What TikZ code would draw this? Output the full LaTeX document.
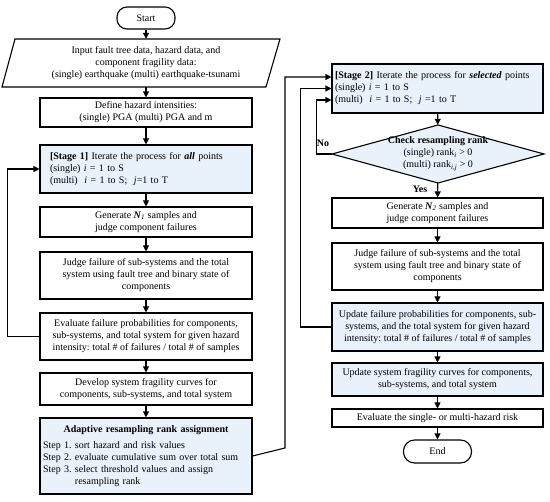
\documentclass[tikz,border=0pt]{standalone}
\usepackage{fontspec}
\setmainfont{Liberation Serif}
\usetikzlibrary{arrows.meta,calc}
\definecolor{lblue}{RGB}{233,241,250}
\frenchspacing
\begin{document}
\begin{tikzpicture}[x=1pt,y=-1pt,
  every node/.style={font=\fontsize{10}{12}\selectfont},
  base/.style={draw, line width=1.1pt, align=center, inner xsep=3pt, inner ysep=0pt},
  lbox/.style={base, minimum width=212pt},
  rbox/.style={base, minimum width=211pt},
  hl/.style={fill=lblue},
  shp/.style={line width=1.1pt},
  arr/.style={line width=1.1pt, -{Triangle[length=6pt,width=6pt]}},
  term/.style={draw, line width=1.1pt, rounded corners=10pt, inner sep=0pt},
  lbl/.style={font=\fontsize{10}{12}\selectfont\bfseries, inner sep=0pt}]
\useasboundingbox (0,0) rectangle (550,502);

% ---------- left column ----------
\node[term, minimum width=58pt, minimum height=22pt] (start) at (146,18) {Start};
\draw[shp] (15,39) -- (280,39) -- (266,87) -- (2,87) -- cycle;
\node[align=center, minimum width=250pt, minimum height=48pt, inner sep=0pt] (inp) at (146,63)
  {Input fault tree data, hazard data, and\\component fragility data:\\(single) earthquake (multi) earthquake-tsunami};
\node[lbox, minimum height=29pt] (def) at (146,112.5)
  {Define hazard intensities:\\(single) PGA (multi) PGA and m};
\node[lbox, hl, minimum height=48pt, align=left, inner xsep=10pt, text width=192pt] (st1) at (146,169)
  {\textbf{[Stage 1]} Iterate the process for \textbf{\textit{all}} points\\
   (single) \textit{i} = 1 to S\\
   (multi)~~\textit{i} = 1 to S;~~\textit{j}=1 to T};
\node[lbox, minimum height=30pt] (gen1) at (146,222)
  {Generate \textbf{\textit{N}}\textsubscript{\textit{1}} samples and\\judge component failures};
\node[lbox, minimum height=47pt] (jud1) at (146,275.5)
  {Judge failure of sub-systems and the total\\system using fault tree and binary state of\\components};
\node[lbox, minimum height=47pt] (ev1) at (146,336.5)
  {Evaluate failure probabilities for components,\\sub-systems, and total system for given hazard\\intensity: total \# of failures / total \# of samples};
\node[lbox, minimum height=32pt] (dev) at (146,389)
  {Develop system fragility curves for\\components, sub-systems, and total system};
\node[lbox, hl, minimum height=76pt, align=left, text width=206pt] (ada) at (146,456)
  {\makebox[206pt]{\textbf{Adaptive resampling rank assignment}}\\[4pt]
   Step 1. sort hazard and risk values\\
   Step 2. evaluate cumulative sum over total sum\\
   Step 3. select threshold values and assign\\
   \phantom{Step 3. }resampling rank};

% ---------- right column ----------
\node[rbox, hl, minimum height=49pt, align=left, text width=205pt] (st2) at (437.5,88.5)
  {\textbf{[Stage 2]} Iterate the process for \textbf{\textit{selected}} points\\
   (single) \textit{i} = 1 to S\\
   (multi)~~\textit{i} = 1 to S;~~\textit{j} =1 to T};
\draw[shp, fill=lblue] (332,154) -- (438,125) -- (544,154) -- (438,183) -- cycle;
\node[align=center, minimum width=212pt, minimum height=58pt, inner sep=0pt] (dia) at (438,154)
  {\textbf{Check resampling rank}\\
   (single) rank\textsubscript{\textit{i}} > 0\\
   (multi) rank\textsubscript{\textit{i,j}} > 0};
\node[rbox, minimum height=30pt] (gen2) at (437.5,213)
  {Generate \textbf{\textit{N}}\textsubscript{\textit{2}} samples and\\judge component failures};
\node[rbox, minimum height=47pt] (jud2) at (437.5,266.5)
  {Judge failure of sub-systems and the total\\system using fault tree and binary state of\\components};
\node[rbox, hl, minimum height=48pt] (up1) at (437.5,327)
  {Update failure probabilities for components, sub-\\systems, and the total system for given hazard\\intensity: total \# of failures / total \# of samples};
\node[rbox, hl, minimum height=33pt] (up2) at (437.5,379.5)
  {Update system fragility curves for components,\\sub-systems, and total system};
\node[rbox, minimum height=18pt] (risk) at (437.5,418)
  {Evaluate the single- or multi-hazard risk};
\node[term, minimum width=68pt, minimum height=23pt, rounded corners=11pt] (end) at (437.5,451.5) {End};

\node[lbl] (no) at (323,143) {No};
\node[lbl] (yes) at (420,189) {Yes};

% ---------- connectors ----------
\draw[arr] (start) -- (inp);
\draw[arr] (inp) -- (def);
\draw[arr] (def) -- (st1);
\draw[arr] (st1) -- (gen1);
\draw[arr] (gen1) -- (jud1);
\draw[arr] (jud1) -- (ev1);
\draw[arr] (ev1) -- (dev);
\draw[arr] (dev) -- (ada);
\draw[arr] (ev1.west) -- ++(-32,0) |- (st1.west);

\coordinate (bend) at (285,448);
\draw[arr] (ada.east) -- (bend) |- ([yshift=11.5pt]st2.west);
\draw[arr] (up1.west) -- ++(-31,0) |- (st2.west);
\draw[arr] (dia.west) -- ++(-15,0) |- ([yshift=-11.5pt]st2.west);

\draw[arr] (st2) -- (dia);
\draw[arr] (dia) -- (gen2);
\draw[arr] (gen2) -- (jud2);
\draw[arr] (jud2) -- (up1);
\draw[arr] (up1) -- (up2);
\draw[arr] (up2) -- (risk);
\draw[arr] (risk) -- (end);
\end{tikzpicture}
\end{document}
